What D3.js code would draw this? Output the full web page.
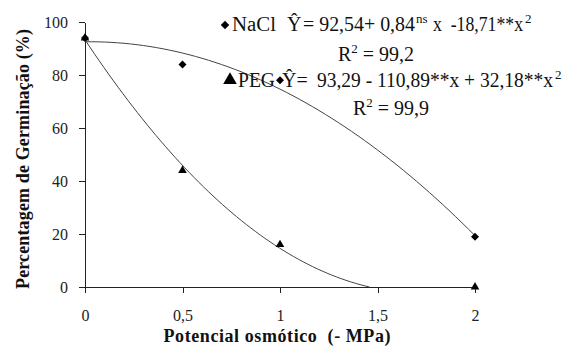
<!DOCTYPE html>
<html>
<meta charset="utf-8">

<body style="margin:0">
    <script src="https://d3js.org/d3.v7.min.js"></script>
    <script>
        // potencial osmotico (-MPa)
        const pressures = [0, 0.5, 1, 2];
        const naclValues = [94, 84, 78, 19];
        const pegValues = [94, 44, 16, 0];
        // fitted coefficients written on the chart (a + b x + c x^2)
        const naclCoef = [92.54, 0.84, -18.71];
        const pegCoef = [93.29, -110.89, 32.18];
        const xTicks = [0, 0.5, 1, 1.5, 2];
        const yTicks = [0, 20, 40, 60, 80, 100];

        var FONT = "Liberation Serif";
        var width = 564, height = 347;
        var margin = { top: 22, right: 89, bottom: 60, left: 85 };

        var svg = d3.select("body").append("svg")
            .attr("width", width)
            .attr("height", height);

        var x = d3.scaleLinear().domain([0, 2]).range([margin.left, width - margin.right]);
        var y = d3.scaleLinear().domain([0, 100]).range([height - margin.bottom, margin.top]);

        // axes
        var gx = svg.append("g")
            .attr("transform", "translate(0," + y(0) + ")")
            .call(d3.axisBottom(x).tickValues(xTicks).tickSize(6).tickSizeOuter(0)
                .tickFormat(function (d) { return String(d).replace(".", ","); }));
        gx.selectAll("text").attr("dy", "1.55em");

        var gy = svg.append("g")
            .attr("transform", "translate(" + x(0) + ",0)")
            .call(d3.axisLeft(y).tickValues(yTicks).tickSize(6).tickSizeOuter(0));
        gy.selectAll("text").attr("dx", "-0.5em");

        [gx, gy].forEach(function (g) {
            g.attr("font-family", FONT).attr("font-size", 16);
            g.selectAll("path, line").attr("stroke", "#222").attr("shape-rendering", "crispEdges");
            g.selectAll("text").attr("fill", "#222");
        });

        // fitted curves
        function fit(c, lo, hi) {
            var pts = [];
            for (var i = 0; i <= 60; i++) {
                var t = lo + (hi - lo) * i / 60;
                pts.push([t, c[0] + c[1] * t + c[2] * t * t]);
            }
            return pts;
        }
        var pegRoot = (-pegCoef[1] - Math.sqrt(pegCoef[1] * pegCoef[1] - 4 * pegCoef[2] * pegCoef[0])) / (2 * pegCoef[2]);

        var line = d3.line()
            .x(function (d) { return x(d[0]); })
            .y(function (d) { return y(Math.max(0, d[1])); });

        svg.append("path").attr("d", line(fit(naclCoef, 0, 2)))
            .attr("fill", "none").attr("stroke", "#444").attr("stroke-width", 1);
        svg.append("path").attr("d", line(fit(pegCoef, 0, pegRoot)))
            .attr("fill", "none").attr("stroke", "#444").attr("stroke-width", 1);

        // points
        var tri = d3.symbol().type(d3.symbolTriangle).size(32);
        var dia = d3.symbol().type(d3.symbolSquare).size(32);

        svg.selectAll(".peg")
            .data(pressures)
            .join("path")
            .attr("d", tri)
            .attr("fill", "#000")
            .attr("transform", function (d, i) { return "translate(" + x(d) + "," + y(pegValues[i]) + ")"; });

        svg.selectAll(".nacl")
            .data(pressures)
            .join("path")
            .attr("d", dia)
            .attr("fill", "#000")
            .attr("transform", function (d, i) { return "translate(" + x(d) + "," + y(naclValues[i]) + ") rotate(45)"; });

        // titles
        svg.append("text")
            .attr("font-family", FONT).attr("font-size", 18).attr("font-weight", "bold")
            .attr("fill", "#111")
            .attr("x", 277).attr("y", 342)
            .attr("text-anchor", "middle")
            .attr("textLength", 227)
            .text("Potencial osmótico \u00a0(- MPa)");

        svg.append("text")
            .attr("font-family", FONT).attr("font-size", 18).attr("font-weight", "bold")
            .attr("fill", "#111")
            .attr("transform", "translate(29,159) rotate(-90)")
            .attr("text-anchor", "middle")
            .attr("textLength", 260)
            .text("Percentagem de Germinação (%)");

        // equations
        function eqText(py) {
            return svg.append("text")
                .attr("font-family", FONT).attr("font-size", 20)
                .attr("fill", "#111")
                .attr("y", py);
        }
        function seg(t, px, s, len) {
            var ts = t.append("tspan").text(s);
            if (px !== null) ts.attr("x", px);
            if (len) ts.attr("textLength", len).attr("lengthAdjust", "spacingAndGlyphs");
            return ts;
        }
        function sup(t, px, s) {
            var ts = t.append("tspan").attr("dy", -8).attr("font-size", 13).text(s);
            if (px !== null) ts.attr("x", px);
            return ts;
        }

        svg.append("path").attr("d", d3.symbol().type(d3.symbolSquare).size(36)).attr("fill", "#000")
            .attr("transform", "translate(225,25) rotate(45)");
        var e1 = eqText(31);
        seg(e1, 232, "NaCl", 44);
        seg(e1, 287, "Ŷ");
        seg(e1, 303, "= 92,54+ 0,84", 112);
        sup(e1, 416, "ns");
        seg(e1, 433, "x \u00a0-18,71**x", 90).attr("dy", 8);
        sup(e1, 525, "2");

        var r1 = eqText(61);
        seg(r1, 338, "R");
        sup(r1, null, "2");
        r1.append("tspan").attr("dy", 8).text(" = 99,2");

        svg.append("path").attr("d", d3.symbol().type(d3.symbolTriangle).size(80)).attr("fill", "#000")
            .attr("transform", "translate(230,80)");
        var e2 = eqText(87);
        seg(e2, 238, "PEG", 37);
        seg(e2, 282, "Ŷ=");
        seg(e2, 317, "93,29 - 110,89**x + 32,18**x", 236);
        sup(e2, 555, "2");

        var r2 = eqText(115);
        seg(r2, 353, "R");
        sup(r2, null, "2");
        r2.append("tspan").attr("dy", 8).text(" = 99,9");
    </script>
</body>

</html>
